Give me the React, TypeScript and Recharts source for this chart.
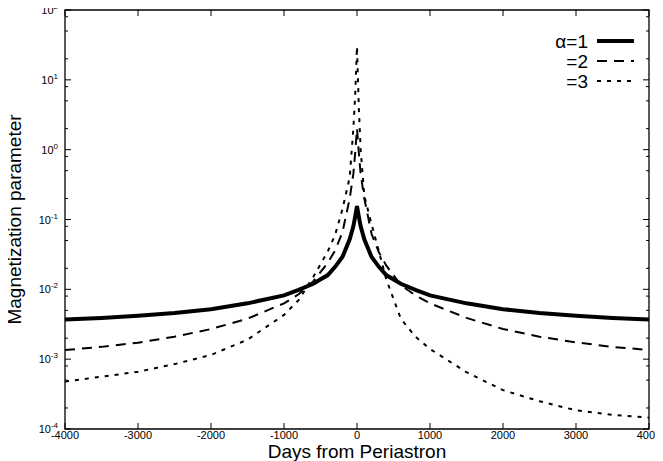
import { LineChart, Line, XAxis, YAxis, Legend } from "recharts";

// days from periastron
const days = [
  -4000, -3500, -3000, -2500, -2000, -1500, -1000, -800, -600, -400, -300, -200, -100, -50, -25, 0,
  25, 50, 100, 200, 300, 400, 600, 800, 1000, 1500, 2000, 2500, 3000, 3500, 4000,
];

// magnetization parameter, alpha = 1
const alpha1 = [
  3.7e-3, 3.9e-3, 4.2e-3, 4.6e-3, 5.2e-3, 6.3e-3, 8.2e-3, 9.8e-3, 0.012, 0.016, 0.021, 0.029, 0.052, 0.08, 0.11, 0.155,
  0.11, 0.08, 0.052, 0.029, 0.021, 0.016, 0.012, 9.8e-3, 8.2e-3, 6.3e-3, 5.2e-3, 4.6e-3, 4.2e-3, 3.9e-3, 3.7e-3,
];

// alpha = 2
const alpha2 = [
  1.35e-3, 1.5e-3, 1.72e-3, 2.1e-3, 2.7e-3, 3.8e-3, 6.3e-3, 8.5e-3, 0.013, 0.024, 0.036, 0.065, 0.2, 0.45, 0.9, 2.0,
  0.9, 0.45, 0.2, 0.062, 0.034, 0.022, 0.0115, 8.2e-3, 6.3e-3, 3.9e-3, 2.7e-3, 2.1e-3, 1.74e-3, 1.5e-3, 1.35e-3,
];

// alpha = 3
const alpha3 = [
  4.8e-4, 5.6e-4, 6.6e-4, 8.5e-4, 1.15e-3, 1.9e-3, 4.3e-3, 7.0e-3, 0.015, 0.035, 0.06, 0.14, 0.4, 2.0, 6, 30,
  4, 1.0, 0.22, 0.085, 0.035, 0.014, 3.8e-3, 2.1e-3, 1.4e-3, 6.5e-4, 3.6e-4, 2.5e-4, 1.85e-4, 1.6e-4, 1.45e-4,
];

const xTicks = [-4000, -3000, -2000, -1000, 0, 1000, 2000, 3000, 4000];
const yMajor = [1e-4, 1e-3, 1e-2, 1e-1, 1, 10, 100];
const yMinor = [
  2e-4, 5e-4, 8e-4, 2e-3, 5e-3, 8e-3, 2e-2, 5e-2, 8e-2, 0.2, 0.5, 0.8, 2, 5, 8, 20, 50, 80,
];
const seriesNames = ["α=1", "=2", "=3"];

const data = days.map((d, i) => ({ d, a1: alpha1[i], a2: alpha2[i], a3: alpha3[i] }));
const yTicks = [...yMajor, ...yMinor].sort((a, b) => a - b);

const FONT = "'Liberation Sans', Arial, Helvetica, sans-serif";
const INK = "#000";
const styles = [
  { key: "a1", width: 4, dash: undefined },
  { key: "a2", width: 2, dash: "10 7" },
  { key: "a3", width: 2, dash: "4 6" },
];

// plot box (chart margins + axis sizes below)
const W = 663;
const H = 461;
const M = { top: 10, right: 14, bottom: 0, left: 0 };
const Y_AXIS_W = 65;
const X_AXIS_H = 32;
const box = {
  left: M.left + Y_AXIS_W,
  top: M.top,
  right: W - M.right,
  bottom: H - M.bottom - X_AXIS_H,
};
const X_DOMAIN = [-4000, 4000];
const Y_DOMAIN = [1e-4, 100];
const sx = (v: number) =>
  box.left + ((v - X_DOMAIN[0]) / (X_DOMAIN[1] - X_DOMAIN[0])) * (box.right - box.left);
const sy = (v: number) =>
  box.bottom -
  ((Math.log10(v) - Math.log10(Y_DOMAIN[0])) / (Math.log10(Y_DOMAIN[1]) - Math.log10(Y_DOMAIN[0]))) *
    (box.bottom - box.top);

const isMajor = (v: number) => yMajor.includes(v);

const LeftTick = ({ x, y, payload }: any) => {
  const v = payload.value;
  if (!isMajor(v)) return <g />;
  return (
    <text x={x - 7} y={y + 4} textAnchor="end" fontSize={11} fontFamily={FONT} fill={INK}>
      10<tspan dy={-5} fontSize={8}>{Math.round(Math.log10(v))}</tspan>
    </text>
  );
};

const BottomTick = ({ x, y, payload }: any) => (
  <text x={x} y={y + 10} textAnchor="middle" fontSize={11} fontFamily={FONT} fill={INK}>
    {payload.value}
  </text>
);

// frame, mirrored ticks and the key, drawn over the plot
const Overlay = () => (
  <svg width={W} height={H} style={{ pointerEvents: "none", display: "block" }}>
    <path
      d={`M${box.left},${box.top}H${box.right}V${box.bottom}H${box.left}Z`}
      fill="none"
      stroke={INK}
      strokeWidth={1.3}
    />
    {yTicks.map((v) => {
      const len = isMajor(v) ? 6 : 3;
      const y = sy(v);
      return (
        <g key={`y${v}`}>
          <line x1={box.left} x2={box.left + len} y1={y} y2={y} stroke={INK} strokeWidth={1} />
          <line x1={box.right} x2={box.right - len} y1={y} y2={y} stroke={INK} strokeWidth={1} />
        </g>
      );
    })}
    {xTicks.map((v) => {
      const x = sx(v);
      return (
        <g key={`x${v}`}>
          <line x1={x} x2={x} y1={box.bottom} y2={box.bottom - 6} stroke={INK} strokeWidth={1} />
          <line x1={x} x2={x} y1={box.top} y2={box.top + 6} stroke={INK} strokeWidth={1} />
        </g>
      );
    })}
    {seriesNames.map((n, i) => {
      const cy = 41 + i * 20;
      const s = styles[i];
      return (
        <g key={n}>
          <text x={588} y={cy + 7} textAnchor="end" fontSize={19} fontFamily={FONT} fill={INK}>
            {n}
          </text>
          <line x1={597} x2={634} y1={cy} y2={cy} stroke={INK} strokeWidth={s.width} strokeDasharray={s.dash} />
        </g>
      );
    })}
  </svg>
);

export default function App() {
  return (
    <div style={{ margin: "-8px 0 0 -8px", width: W, height: H }}>
      <LineChart width={W} height={H} data={data} margin={M}>
        <XAxis
          dataKey="d"
          type="number"
          domain={X_DOMAIN}
          ticks={xTicks}
          interval={0}
          height={X_AXIS_H}
          tickSize={0}
          tickMargin={0}
          tickLine={false}
          tick={<BottomTick />}
          axisLine={false}
          label={{
            value: "Days from Periastron",
            position: "insideBottom",
            offset: 3,
            fontSize: 19,
            fontFamily: FONT,
            fill: INK,
          }}
        />
        <YAxis
          scale="log"
          type="number"
          domain={Y_DOMAIN}
          allowDataOverflow
          ticks={yTicks}
          interval={0}
          width={Y_AXIS_W}
          tickSize={0}
          tickMargin={0}
          tickLine={false}
          tick={<LeftTick />}
          axisLine={false}
          label={{
            value: "Magnetization parameter",
            angle: -90,
            position: "insideLeft",
            offset: 14,
            fontSize: 19,
            fontFamily: FONT,
            fill: INK,
            style: { textAnchor: "middle" },
          }}
        />
        <Legend
          layout="vertical"
          align="center"
          verticalAlign="middle"
          content={() => <Overlay />}
          wrapperStyle={{ position: "absolute", left: 0, top: 0, width: W, height: H, pointerEvents: "none" }}
        />
        {styles.map((s) => (
          <Line
            key={s.key}
            dataKey={s.key}
            type="linear"
            stroke={INK}
            strokeWidth={s.width}
            strokeDasharray={s.dash}
            dot={false}
            activeDot={false}
            isAnimationActive={false}
          />
        ))}
      </LineChart>
    </div>
  );
}
